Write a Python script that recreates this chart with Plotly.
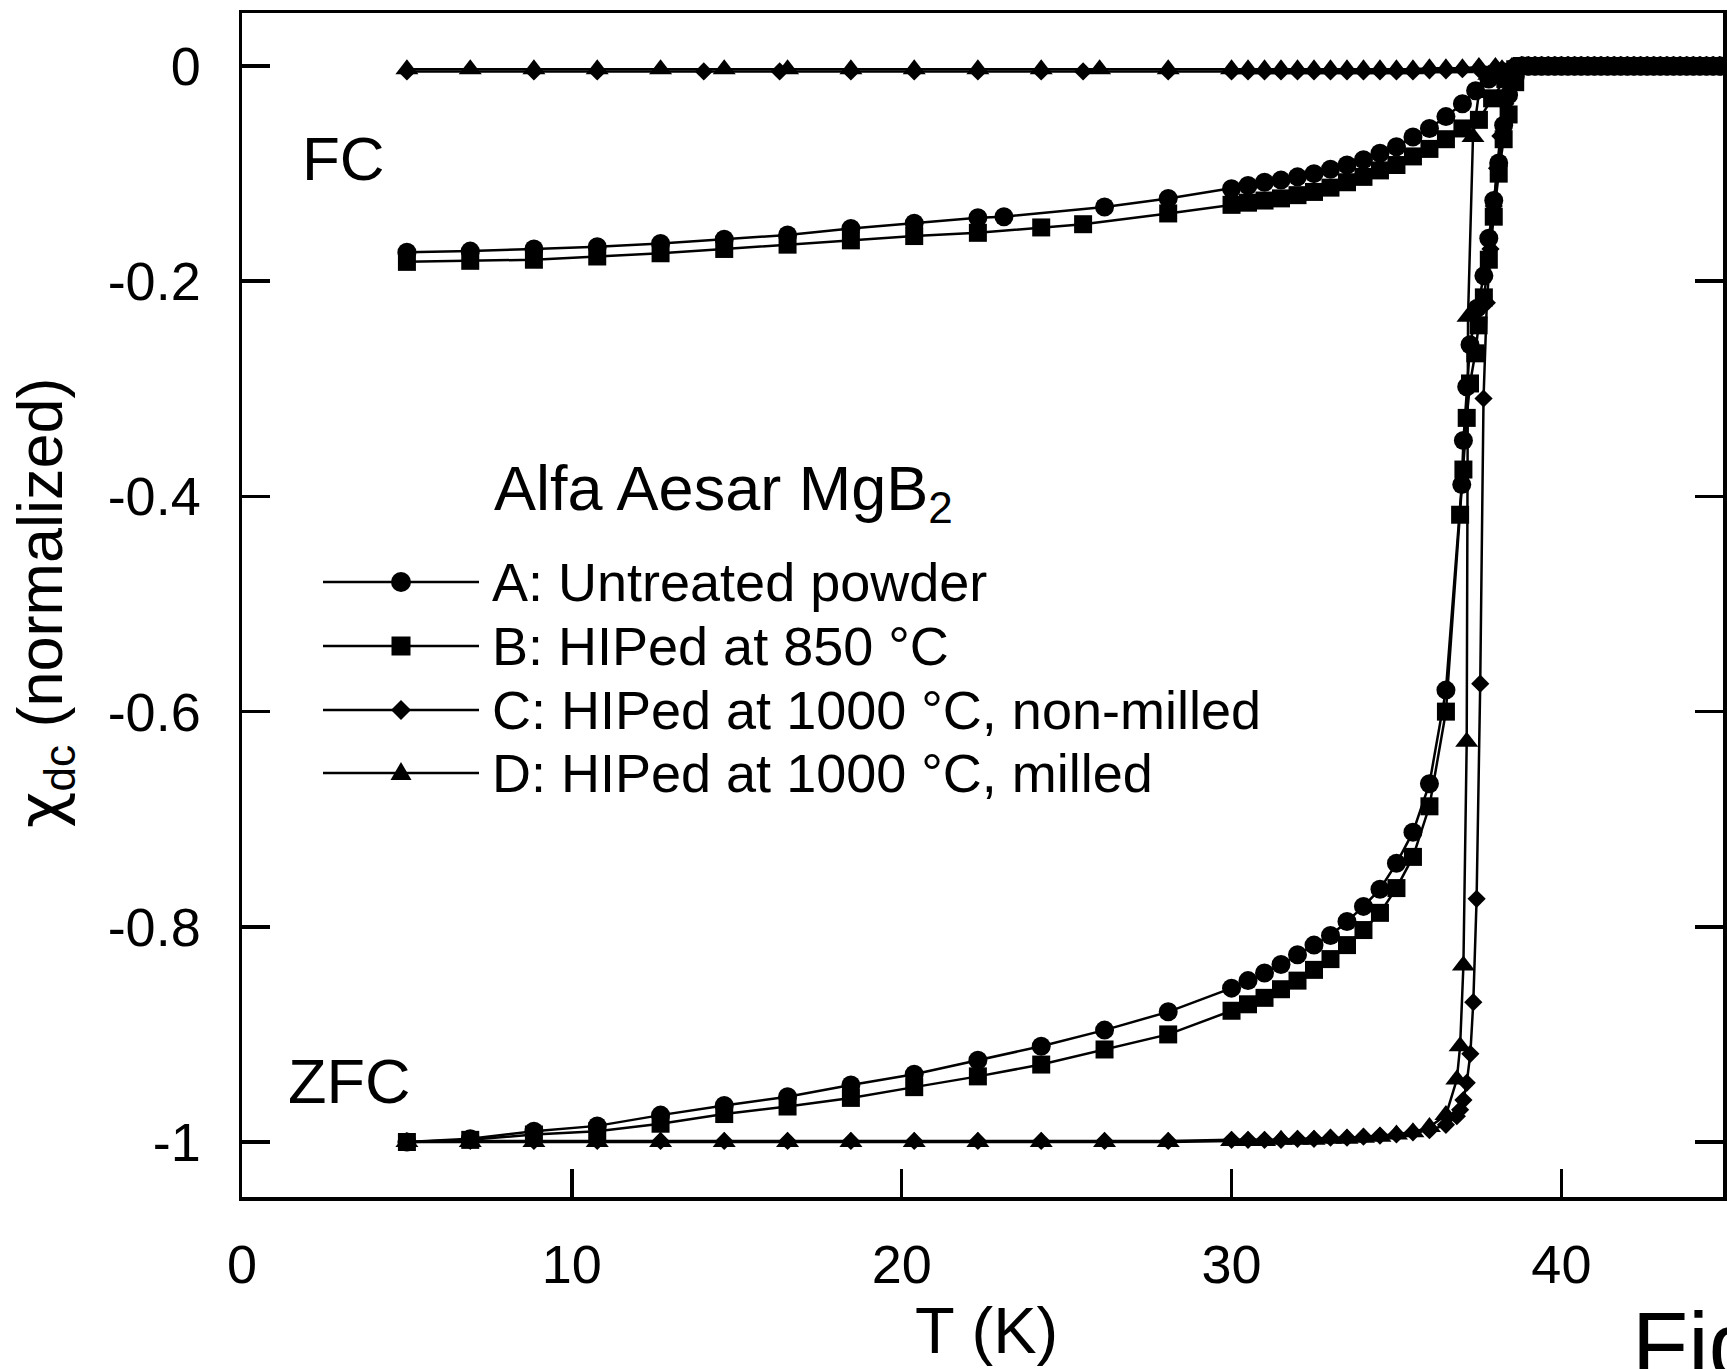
import plotly.graph_objects as go

# ---------------- data ----------------
# high-temperature normal-state points shared by every branch (chi = 0)
HIGH_T = [38.8, 39.0, 39.2, 39.4, 39.6, 39.8, 40.0, 40.2, 40.4, 40.6, 40.8,
          41.0, 41.2, 41.4, 41.6, 41.8, 42.0, 42.2, 42.4, 42.6, 42.8, 43.0,
          43.2, 43.4, 43.6, 43.8, 44.0, 44.2, 44.4, 44.6, 44.8, 45.0]
HIGH_CHI = [0.0, 0.0, 0.0, 0.0, 0.0, 0.0, 0.0, 0.0, 0.0, 0.0, 0.0,
            0.0, 0.0, 0.0, 0.0, 0.0, 0.0, 0.0, 0.0, 0.0, 0.0, 0.0,
            0.0, 0.0, 0.0, 0.0, 0.0, 0.0, 0.0, 0.0, 0.0, 0.0]

# A: untreated powder
A_ZFC_T = [5.0, 6.92, 8.85, 10.77, 12.69, 14.62, 16.54, 18.46, 20.38, 22.31, 24.23, 26.15, 28.08,
           30.0, 30.5, 31.0, 31.5, 32.0, 32.5, 33.0, 33.5, 34.0, 34.5, 35.0, 35.5, 36.0, 36.5,
           36.98, 37.03, 37.13, 37.23, 37.45, 37.65, 37.8, 37.95, 38.1, 38.25, 38.4, 38.6]
A_ZFC_CHI = [-1.000, -0.997, -0.990, -0.985, -0.975, -0.966, -0.958, -0.947, -0.937, -0.924, -0.911, -0.896, -0.879,
             -0.857, -0.850, -0.843, -0.835, -0.826, -0.817, -0.808, -0.795, -0.781, -0.765, -0.741, -0.712, -0.667, -0.580,
             -0.389, -0.348, -0.298, -0.259, -0.225, -0.195, -0.160, -0.125, -0.090, -0.055, -0.027, -0.010]
A_FC_T = [5.0, 6.92, 8.85, 10.77, 12.69, 14.62, 16.54, 18.46, 20.38, 22.31, 23.1, 26.15, 28.08,
          30.0, 30.5, 31.0, 31.5, 32.0, 32.5, 33.0, 33.5, 34.0, 34.5, 35.0, 35.5, 36.0, 36.5,
          37.0, 37.4, 37.8, 38.2, 38.6]
A_FC_CHI = [-0.173, -0.172, -0.170, -0.168, -0.165, -0.161, -0.157, -0.151, -0.146, -0.141, -0.140, -0.131, -0.123,
            -0.114, -0.111, -0.108, -0.106, -0.103, -0.100, -0.096, -0.092, -0.087, -0.081, -0.075, -0.066, -0.058, -0.047,
            -0.035, -0.023, -0.012, -0.005, -0.001]

# B: HIPed at 850 C
B_ZFC_T = [5.0, 6.92, 8.85, 10.77, 12.69, 14.62, 16.54, 18.46, 20.38, 22.31, 24.23, 26.15, 28.08,
           30.0, 30.5, 31.0, 31.5, 32.0, 32.5, 33.0, 33.5, 34.0, 34.5, 35.0, 35.5, 36.0, 36.5,
           36.93, 37.03, 37.13, 37.23, 37.39, 37.49, 37.65, 37.8, 37.95, 38.1, 38.25, 38.4, 38.6]
B_ZFC_CHI = [-1.000, -0.998, -0.993, -0.990, -0.983, -0.974, -0.967, -0.959, -0.949, -0.939, -0.928, -0.914, -0.900,
             -0.878, -0.872, -0.866, -0.858, -0.850, -0.840, -0.830, -0.817, -0.803, -0.787, -0.764, -0.735, -0.688, -0.600,
             -0.417, -0.375, -0.327, -0.295, -0.267, -0.241, -0.215, -0.180, -0.140, -0.100, -0.068, -0.045, -0.015]
B_FC_T = [5.0, 6.92, 8.85, 10.77, 12.69, 14.62, 16.54, 18.46, 20.38, 22.31, 24.23, 25.5, 28.08,
          30.0, 30.5, 31.0, 31.5, 32.0, 32.5, 33.0, 33.5, 34.0, 34.5, 35.0, 35.5, 36.0, 36.5,
          37.0, 37.5, 37.9, 38.3, 38.6]
B_FC_CHI = [-0.182, -0.181, -0.180, -0.177, -0.174, -0.170, -0.166, -0.162, -0.158, -0.155, -0.150, -0.147, -0.137,
            -0.129, -0.127, -0.125, -0.123, -0.120, -0.117, -0.113, -0.108, -0.103, -0.097, -0.092, -0.084, -0.077, -0.068,
            -0.058, -0.050, -0.030, -0.012, -0.003]

# C: HIPed at 1000 C, non-milled
C_ZFC_T = [5.0, 6.92, 8.85, 10.77, 12.69, 14.62, 16.54, 18.46, 20.38, 22.31, 24.23, 26.15, 28.08,
           30.0, 30.5, 31.0, 31.5, 32.0, 32.5, 33.0, 33.5, 34.0, 34.5, 35.0, 35.5, 36.0, 36.5,
           36.83, 36.93, 37.03, 37.13, 37.24, 37.33, 37.43, 37.54, 37.64, 37.74, 37.85, 37.95,
           38.05, 38.15, 38.3, 38.45, 38.6]
C_ZFC_CHI = [-1.000, -0.999, -0.999, -0.999, -0.999, -0.999, -0.999, -0.999, -0.999, -0.999, -0.999, -0.999, -0.999,
             -0.998, -0.998, -0.998, -0.998, -0.997, -0.997, -0.996, -0.996, -0.995, -0.994, -0.993, -0.991, -0.989, -0.984,
             -0.976, -0.970, -0.961, -0.945, -0.918, -0.870, -0.774, -0.574, -0.309, -0.220, -0.170, -0.130,
             -0.095, -0.065, -0.035, -0.015, -0.005]
C_FC_T = [5.0, 8.85, 10.77, 14.0, 16.3, 18.46, 20.38, 22.31, 24.23, 25.5, 28.08,
          30.0, 30.5, 31.0, 31.5, 32.0, 32.5, 33.0, 33.5, 34.0, 34.5, 35.0, 35.5, 36.0, 36.5,
          37.0, 37.5, 38.0, 38.5]
C_FC_CHI = [-0.005, -0.005, -0.005, -0.005, -0.005, -0.005, -0.005, -0.005, -0.005, -0.005, -0.005,
            -0.005, -0.005, -0.005, -0.005, -0.005, -0.005, -0.005, -0.005, -0.005, -0.005, -0.005, -0.005, -0.004, -0.004,
            -0.003, -0.003, -0.002, -0.001]

# D: HIPed at 1000 C, milled
D_ZFC_T = [5.0, 6.92, 8.85, 10.77, 12.69, 14.62, 16.54, 18.46, 20.38, 22.31, 24.23, 26.15, 28.08,
           30.0, 30.5, 31.0, 31.5, 32.0, 32.5, 33.0, 33.5, 34.0, 34.5, 35.0, 35.5, 36.0, 36.5,
           36.83, 36.93, 37.03, 37.13, 37.17, 37.32, 37.5, 37.8, 38.2, 38.6]
D_ZFC_CHI = [-1.000, -1.000, -1.000, -1.000, -1.000, -1.000, -1.000, -1.000, -1.000, -1.000, -1.000, -1.000, -1.000,
             -0.999, -0.999, -0.999, -0.998, -0.998, -0.998, -0.997, -0.997, -0.996, -0.995, -0.993, -0.991, -0.986, -0.975,
             -0.942, -0.911, -0.836, -0.628, -0.233, -0.066, -0.025, -0.008, -0.003, -0.001]
D_FC_T = [5.0, 6.92, 8.85, 10.77, 12.69, 14.62, 16.54, 18.46, 20.38, 22.31, 24.23, 26.0, 28.08,
          30.0, 30.5, 31.0, 31.5, 32.0, 32.5, 33.0, 33.5, 34.0, 34.5, 35.0, 35.5, 36.0, 36.5,
          37.0, 37.5, 38.0, 38.5]
D_FC_CHI = [-0.003, -0.003, -0.003, -0.003, -0.003, -0.003, -0.003, -0.003, -0.003, -0.003, -0.003, -0.003, -0.003,
            -0.003, -0.003, -0.003, -0.003, -0.003, -0.003, -0.003, -0.003, -0.003, -0.003, -0.003, -0.003, -0.002, -0.002,
            -0.002, -0.001, -0.001, -0.001]

SERIES_LABELS = ["A: Untreated powder", "B: HIPed at 850 \u00b0C",
                 "C: HIPed at 1000 \u00b0C, non-milled", "D: HIPed at 1000 \u00b0C, milled"]
X_TICKS = [0, 10, 20, 30, 40]
Y_TICKS = [-1.0, -0.8, -0.6, -0.4, -0.2, 0.0]
Y_TICK_TEXT = ["-1", "-0.8", "-0.6", "-0.4", "-0.2", "0"]

# ---------------- layout geometry ----------------
W, H = 1727, 1369
ML, MR, MT, MB = 242, 4, 13, 172
PW = W - ML - MR
PH = H - MT - MB
FONT = "Liberation Sans, Arial, Helvetica, sans-serif"


def pxx(x):
    return (x - ML) / PW


def pxy(y):
    return (H - MB - y) / PH


series = [
    (A_ZFC_T, A_ZFC_CHI, A_FC_T, A_FC_CHI, "circle", 19),
    (B_ZFC_T, B_ZFC_CHI, B_FC_T, B_FC_CHI, "square", 18),
    (C_ZFC_T, C_ZFC_CHI, C_FC_T, C_FC_CHI, "diamond", 14),
    (D_ZFC_T, D_ZFC_CHI, D_FC_T, D_FC_CHI, "triangle-up", 20),
]

fig = go.Figure()
for (zt, zc, ft, fc, sym, size), label in zip(series, SERIES_LABELS):
    for t, c in ((zt, zc), (ft, fc)):
        fig.add_trace(go.Scatter(
            x=t + HIGH_T, y=c + HIGH_CHI, mode="lines+markers", name=label,
            showlegend=False,
            line=dict(color="black", width=2.5),
            marker=dict(symbol=sym, size=size, color="black",
                        line=dict(width=0)),
        ))

# ---------------- hand-drawn legend (long line with centered marker) ----------------
shapes = []
annotations = []
leg_rows = [582, 646, 710, 773]
leg_x0, leg_x1, leg_xm = 323, 479, 401
marker_paths = {
    "diamond": "M -10 0 L 0 10 L 10 0 L 0 -10 Z",
    "triangle-up": "M -10.5 -7 L 10.5 -7 L 0 11 Z",
}
for (row_y, (_, _, _, _, sym, _)), label in zip(zip(leg_rows, series), SERIES_LABELS):
    shapes.append(dict(type="line", xref="paper", yref="paper",
                       x0=pxx(leg_x0), x1=pxx(leg_x1), y0=pxy(row_y), y1=pxy(row_y),
                       line=dict(color="black", width=2.5)))
    common = dict(xref="paper", yref="paper", xsizemode="pixel", ysizemode="pixel",
                  xanchor=pxx(leg_xm), yanchor=pxy(row_y),
                  fillcolor="black", line=dict(width=0))
    if sym == "circle":
        shapes.append(dict(type="circle", x0=-10, x1=10, y0=-10, y1=10, **common))
    elif sym == "square":
        shapes.append(dict(type="rect", x0=-9.5, x1=9.5, y0=-9.5, y1=9.5, **common))
    else:
        shapes.append(dict(type="path", path=marker_paths[sym], **common))
    annotations.append(dict(text=label, xref="paper", yref="paper",
                            x=pxx(490), y=pxy(row_y), xanchor="left", yanchor="middle",
                            showarrow=False, font=dict(family=FONT, size=54, color="black")))

annotations += [
    dict(text="Alfa Aesar MgB<sub>2</sub>", xref="paper", yref="paper",
         x=pxx(492), y=pxy(492), xanchor="left", yanchor="middle", showarrow=False,
         font=dict(family=FONT, size=63, color="black")),
    dict(text="FC", xref="paper", yref="paper", x=pxx(300), y=pxy(158),
         xanchor="left", yanchor="middle", showarrow=False,
         font=dict(family=FONT, size=62, color="black")),
    dict(text="ZFC", xref="paper", yref="paper", x=pxx(286), y=pxy(1081),
         xanchor="left", yanchor="middle", showarrow=False,
         font=dict(family=FONT, size=63, color="black")),
    dict(text="T (K)", xref="paper", yref="paper", x=pxx(986), y=pxy(1330),
         xanchor="center", yanchor="middle", showarrow=False,
         font=dict(family=FONT, size=65, color="black")),
    dict(text="<span style=\"font-family:'DejaVu Sans'\">\u03c7</span><sub>dc</sub> (normalized)",
         xref="paper", yref="paper",
         x=pxx(44), y=pxy(603), xanchor="center", yanchor="middle", textangle=-90,
         showarrow=False, font=dict(family=FONT, size=63, color="black")),
    dict(text="Fig. 1", xref="paper", yref="paper", x=pxx(1630), y=pxy(1345),
         xanchor="left", yanchor="middle", showarrow=False,
         font=dict(family=FONT, size=92, color="black")),
]

axis_common = dict(
    showgrid=False, zeroline=False, showline=True, linecolor="black", linewidth=3.5,
    ticks="inside", ticklen=28, tickwidth=3.5, tickcolor="black",
    tickfont=dict(family=FONT, size=54, color="black"),
)

fig.update_layout(
    width=W, height=H,
    margin=dict(l=ML, r=MR, t=MT, b=MB, autoexpand=False),
    paper_bgcolor="white", plot_bgcolor="white",
    showlegend=False,
    xaxis=dict(range=[0, 44.9], tickmode="array", tickvals=X_TICKS,
               ticktext=[str(v) for v in X_TICKS], mirror=True,
               ticklabelstandoff=18, **axis_common),
    yaxis=dict(range=[-1.0511, 0.0493], tickmode="array", tickvals=Y_TICKS,
               ticktext=Y_TICK_TEXT, mirror="ticks", ticklabelstandoff=27,
               **axis_common),
    shapes=shapes,
    annotations=annotations,
)

fig.write_html(
    "out.html",
    config={"displayModeBar": False, "staticPlot": True},
    post_script="document.body.style.margin='0';document.body.style.padding='0';"
                "document.body.style.overflow='hidden';",
)
